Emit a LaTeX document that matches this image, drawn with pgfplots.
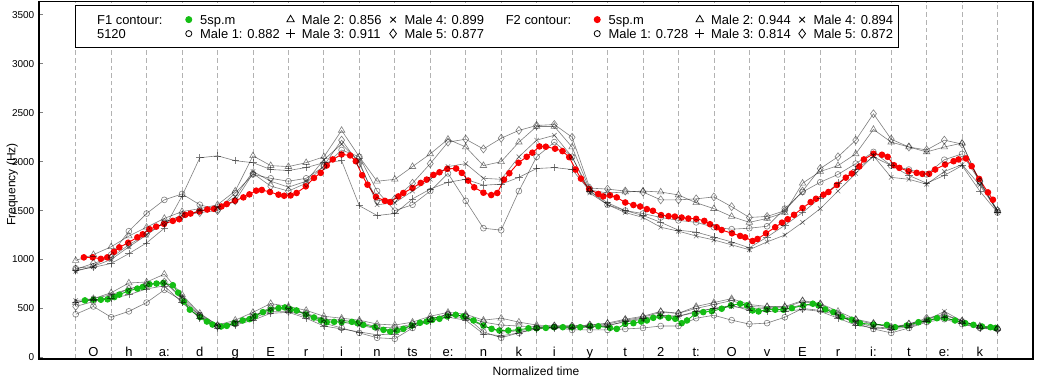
\documentclass[border=0pt]{standalone}
\usepackage{fontspec}
\setmainfont{Liberation Sans}
\usepackage{pgfplots}
\usepackage{pgfplotstable}
\pgfplotsset{compat=1.18}
\definecolor{Fgreen}{RGB}{20,190,20}
\definecolor{Fred}{RGB}{250,0,0}
\newcommand\LA[1]{\makebox[70.5pt][l]{\hspace{10.3pt}#1}}
\newcommand\LB[1]{\makebox[59.25pt][l]{#1}}
\newcommand\LC[1]{\makebox[59.8pt][l]{#1}}
\newcommand\LD[1]{\makebox[76pt][l]{#1}}
\newcommand\LE[1]{\makebox[60pt][l]{#1}}
\newcommand\LF[1]{\makebox[59.8pt][l]{#1}}
\newcommand\LG[1]{\makebox[59.7pt][l]{#1}}
\newcommand\LH[1]{\makebox[57.75pt][l]{#1}}
\newcommand\phon{\fontsize{9.75}{11}\selectfont}
\pgfplotsset{
  legmark/.style={only marks, legend image code/.code={%
     \draw[##1] plot coordinates {(0pt,0pt)};
     \path (-8.25pt,0pt) (8.25pt,0pt);}},
  male/.style={draw=black, opacity=0.5, line width=0.45pt, forget plot, mark options={solid, fill=none}},
}

% F2 of the five male speakers, sampled every half segment
\pgfplotstableread{
u m1 m2 m3 m4 m5
0 910 990 890 880 900
0.5 930 1050 920 930 960
1 1050 1130 960 1000 1020
1.5 1290 1240 1060 1130 1150
2 1470 1330 1170 1250 1260
2.5 1610 1420 1320 1380 1380
3 1670 1490 1650 1450 1450
3.5 1560 1520 2040 1500 1480
4 1510 1560 2060 1530 1500
4.5 1680 1700 2010 1640 1600
5 1870 2060 1990 1900 1880
5.5 1830 1960 1920 1800 1750
6 1800 1950 1910 1740 1700
6.5 1830 1990 1940 1800 1780
7 1950 2050 1990 2020 1960
7.5 2120 2320 2010 2180 2220
8 2050 2050 1550 2000 1980
8.5 1700 1800 1450 1560 1600
9 1500 1820 1470 1580 1620
9.5 1560 1950 1620 1700 1780
10 1700 2080 1720 1820 1980
10.5 1880 2230 1790 1950 2200
11 1600 2150 1820 1980 2230
11.5 1320 1960 1760 1830 2130
12 1300 2000 1770 1820 2240
12.5 1700 2200 1840 2050 2320
13 2050 2360 1930 2220 2370
13.5 2200 2360 1940 2270 2380
14 2050 2150 1920 2050 2250
14.5 1700 1710 1700 1680 1730
15 1560 1680 1580 1560 1720
15.5 1500 1690 1500 1480 1700
16 1470 1700 1450 1430 1690
16.5 1430 1690 1380 1330 1610
17 1400 1660 1300 1290 1610
17.5 1380 1580 1280 1240 1620
18 1330 1520 1230 1200 1640
18.5 1310 1440 1180 1150 1540
19 1320 1380 1120 1100 1430
19.5 1340 1420 1230 1180 1440
20 1520 1480 1350 1250 1500
20.5 1690 1780 1480 1380 1700
21 1790 1900 1630 1520 1930
21.5 1870 1960 1780 1700 2050
22 1980 2080 1920 1880 2220
22.5 2100 2330 2050 2060 2490
23 1960 2200 1960 1840 2230
23.5 1920 2150 1860 1820 2150
24 1870 2100 1780 1770 2120
24.5 2020 2150 1860 1900 2220
25 2080 2190 1960 1970 2180
25.5 1800 1780 1700 1760 1800
26 1480 1500 1480 1500 1500
}\FtwoMales

% F1 of the five male speakers, sampled every half segment
\pgfplotstableread{
u m1 m2 m3 m4 m5
0 440 560 560 580 520
0.5 520 600 590 600 570
1 410 660 600 640 620
1.5 470 760 640 700 700
2 560 770 700 740 740
2.5 690 850 730 770 770
3 580 640 560 620 600
3.5 430 450 400 440 420
4 320 330 300 330 320
4.5 340 380 330 360 350
5 400 460 380 420 420
5.5 470 550 450 500 510
6 470 520 460 490 500
6.5 420 480 400 440 450
7 350 420 320 380 390
7.5 300 400 290 360 380
8 250 380 260 330 360
8.5 200 340 230 290 310
9 190 330 240 280 300
9.5 300 360 310 330 340
10 390 420 370 390 390
10.5 440 460 410 430 440
11 420 440 380 400 420
11.5 260 380 240 320 360
12 200 400 220 260 330
12.5 250 360 250 270 320
13 300 330 290 300 310
13.5 310 320 300 310 320
14 280 320 300 310 320
14.5 280 330 310 320 330
15 280 350 320 330 340
15.5 290 390 370 360 380
16 300 420 400 390 410
16.5 320 470 430 420 460
17 320 450 420 420 450
17.5 400 520 470 460 500
18 430 560 500 500 540
18.5 380 600 530 520 580
19 340 540 480 500 520
19.5 350 520 470 500 510
20 410 520 470 490 510
20.5 500 580 490 540 570
21 480 550 470 520 540
21.5 430 470 400 420 440
22 350 390 330 360 380
22.5 290 350 300 310 340
23 250 300 290 300 310
23.5 300 340 310 320 340
24 360 390 370 380 400
24.5 390 430 410 470 440
25 340 370 350 370 370
25.5 300 320 300 310 310
26 290 300 280 290 290
}\FoneMales

\begin{document}
\begin{tikzpicture}
\useasboundingbox (0,0) rectangle (780pt,285.75pt);
\begin{axis}[
  at={(29.25pt,16.5pt)}, anchor=south west,
  scale only axis, width=745.5pt, height=268pt,
  xmin=-1.035, xmax=27, ymin=-17, ymax=3636,
  axis line style={line width=0.8pt},
  xtick={0,...,26}, xticklabels={,,}, xtick style={draw=none},
  xmajorgrids, grid style={black!30, dash pattern=on 3.5pt off 2.2pt, line width=0.6pt},
  ytick={0,500,...,3500}, ytick pos=left, tick align=inside, major tick length=3.2pt,
  ytick style={line width=0.8pt},
  scaled y ticks=false,
  /pgf/number format/1000 sep={},
  /pgf/number format/assume math mode=true,
  yticklabel style={font=\fontsize{7.5}{9}\selectfont},
  ylabel={Frequency (Hz)},
  ylabel style={at={(axis description cs:-0.0269,0.488)}, anchor=center, font=\fontsize{9}{10}\selectfont},
  xlabel={Normalized time},
  xlabel style={at={(axis description cs:0.5,-0.035)}, anchor=center, font=\fontsize{9}{10}\selectfont},
  legend columns=8,
  legend cell align=left,
  legend style={at={(axis description cs:0.0362,0.9908)}, anchor=north west,
    draw=black, line width=0.6pt, fill=white, inner xsep=6pt, inner ysep=5.5pt,
    font=\fontsize{9.7}{10.5}\selectfont, column sep=0pt, row sep=0.1pt,
    nodes={inner sep=0pt, text height=8.7pt, text depth=1.7pt}},
]
% mean contours of 5sp.m
\addplot[color=Fred, line width=0.7pt, mark=*, mark size=2.1pt, forget plot] coordinates {
(0.23,1022)(0.48,1022)(0.71,1007)(0.89,1022)(1.08,1079)(1.23,1124)(1.48,1172)(1.74,1227)(1.89,1258)(2.08,1310)(2.27,1336)(2.49,1364)(2.74,1395)(2.92,1412)(3.09,1457)(3.24,1470)(3.49,1491)(3.71,1511)(3.90,1518)(4.11,1542)(4.26,1567)(4.49,1601)(4.73,1635)(4.90,1666)(5.09,1704)(5.25,1711)(5.48,1690)(5.72,1663)(5.88,1652)(6.06,1655)(6.23,1680)(6.49,1748)(6.72,1834)(6.91,1886)(7.08,1961)(7.25,2023)(7.50,2074)(7.74,2064)(7.90,2005)(8.08,1861)(8.23,1765)(8.47,1639)(8.72,1600)(8.87,1587)(9.10,1645)(9.24,1680)(9.50,1731)(9.73,1783)(9.90,1817)(10.09,1865)(10.26,1892)(10.48,1927)(10.73,1930)(10.89,1886)(11.07,1807)(11.24,1738)(11.50,1683)(11.72,1659)(11.89,1680)(12.08,1817)(12.23,1882)(12.49,1989)(12.72,2050)(12.88,2092)(13.08,2156)(13.26,2153)(13.52,2133)(13.73,2108)(13.92,2046)(14.10,1920)(14.25,1827)(14.48,1721)(14.74,1670)(14.88,1645)(15.07,1656)(15.26,1635)(15.50,1583)(15.73,1557)(15.92,1542)(16.11,1515)(16.28,1498)(16.51,1454)(16.72,1443)(16.90,1439)(17.09,1429)(17.28,1419)(17.50,1416)(17.73,1395)(17.89,1361)(18.08,1330)(18.22,1302)(18.51,1268)(18.74,1241)(18.88,1227)(19.09,1189)(19.23,1210)(19.47,1268)(19.73,1330)(19.92,1377)(20.08,1412)(20.26,1457)(20.50,1526)(20.73,1587)(20.88,1621)(21.09,1663)(21.23,1690)(21.47,1762)(21.72,1837)(21.89,1879)(22.10,1951)(22.23,2023)(22.50,2081)(22.74,2071)(22.90,2050)(23.08,1964)(23.23,1937)(23.49,1902)(23.72,1886)(23.88,1876)(24.07,1876)(24.24,1920)(24.52,1971)(24.76,2005)(24.90,2023)(25.11,2033)(25.27,1954)(25.48,1824)(25.73,1686)(25.87,1611)
};
\addplot[color=Fgreen, line width=0.7pt, mark=*, mark size=2.1pt, forget plot] coordinates {
(0.26,582)(0.50,589)(0.71,589)(0.90,593)(1.09,616)(1.23,641)(1.48,678)(1.74,703)(1.89,719)(2.08,747)(2.28,754)(2.47,760)(2.74,737)(2.89,661)(3.05,570)(3.22,487)(3.51,411)(3.70,366)(3.86,335)(4.10,315)(4.26,322)(4.47,349)(4.71,377)(4.90,390)(5.06,421)(5.28,462)(5.50,487)(5.72,503)(5.90,510)(6.06,490)(6.23,479)(6.49,438)(6.72,407)(6.92,377)(7.08,359)(7.29,363)(7.50,359)(7.79,363)(7.95,349)(8.11,332)(8.44,308)(8.68,281)(8.87,263)(9.06,274)(9.24,291)(9.48,325)(9.71,353)(9.90,366)(10.06,384)(10.26,394)(10.48,418)(10.72,435)(10.93,418)(11.22,377)(11.50,325)(11.73,291)(11.95,274)(12.20,274)(12.49,281)(12.77,297)(13.00,297)(13.26,301)(13.49,308)(13.74,308)(13.99,308)(14.23,308)(14.51,318)(14.74,318)(15.07,301)(15.26,291)(15.50,343)(15.73,349)(15.95,366)(16.11,377)(16.29,404)(16.48,418)(16.72,404)(16.91,394)(17.09,349)(17.24,377)(17.47,445)(17.70,462)(17.94,472)(18.22,497)(18.48,531)(18.74,548)(18.93,531)(19.09,479)(19.26,469)(19.49,487)(19.73,487)(19.96,487)(20.20,503)(20.52,531)(20.79,548)(20.95,531)(21.14,490)(21.37,462)(21.61,411)(21.89,384)(22.12,349)(22.50,335)(22.88,332)(23.11,308)(23.44,325)(23.77,359)(24.05,377)(24.29,400)(24.52,400)(24.80,377)(25.09,349)(25.32,332)(25.56,315)(25.80,308)(25.94,301)
};
% male speakers
\addplot[male, mark=o, mark size=2.2pt] table[x=u,y=m1] {\FtwoMales};
\addplot[male, mark=triangle, mark size=2.8pt] table[x=u,y=m2] {\FtwoMales};
\addplot[male, mark=+, mark size=2.8pt] table[x=u,y=m3] {\FtwoMales};
\addplot[male, mark=x, mark size=2.4pt] table[x=u,y=m4] {\FtwoMales};
\addplot[male, mark=diamond, mark size=3pt] table[x=u,y=m5] {\FtwoMales};
\addplot[male, mark=o, mark size=2.2pt] table[x=u,y=m1] {\FoneMales};
\addplot[male, mark=triangle, mark size=2.8pt] table[x=u,y=m2] {\FoneMales};
\addplot[male, mark=+, mark size=2.8pt] table[x=u,y=m3] {\FoneMales};
\addplot[male, mark=x, mark size=2.4pt] table[x=u,y=m4] {\FoneMales};
\addplot[male, mark=diamond, mark size=3pt] table[x=u,y=m5] {\FoneMales};
% legend
\addlegendimage{empty legend}\addlegendentry{\LA{F1 contour:}}
\addlegendimage{legmark, mark=*, Fgreen, mark size=2.3pt}\addlegendentry{\LB{5sp.m}}
\addlegendimage{legmark, mark=triangle, black, mark size=3.2pt}\addlegendentry{\LC{Male 2: 0.856}}
\addlegendimage{legmark, mark=x, black, mark size=3pt}\addlegendentry{\LD{Male 4: 0.899}}
\addlegendimage{empty legend}\addlegendentry{\LE{F2 contour:}}
\addlegendimage{legmark, mark=*, Fred, mark size=2.3pt}\addlegendentry{\LF{5sp.m}}
\addlegendimage{legmark, mark=triangle, black, mark size=3.2pt}\addlegendentry{\LG{Male 2: 0.944}}
\addlegendimage{legmark, mark=x, black, mark size=3pt}\addlegendentry{\LH{Male 4: 0.894}}
\addlegendimage{empty legend}\addlegendentry{\LA{5120}}
\addlegendimage{legmark, mark=o, black, mark size=2.3pt}\addlegendentry{\LB{Male 1: 0.882}}
\addlegendimage{legmark, mark=+, black, mark size=3.4pt}\addlegendentry{\LC{Male 3: 0.911}}
\addlegendimage{legmark, mark=diamond, black, mark size=3.4pt}\addlegendentry{\LD{Male 5: 0.877}}
\addlegendimage{empty legend}\addlegendentry{\LE{}}
\addlegendimage{legmark, mark=o, black, mark size=2.3pt}\addlegendentry{\LF{Male 1: 0.728}}
\addlegendimage{legmark, mark=+, black, mark size=3.4pt}\addlegendentry{\LG{Male 3: 0.814}}
\addlegendimage{legmark, mark=diamond, black, mark size=3.4pt}\addlegendentry{\LH{Male 5: 0.872}}
% segment labels
\node[anchor=base, font=\phon] at (axis cs:0.5,13) {O};
\node[anchor=base, font=\phon] at (axis cs:1.5,13) {h};
\node[anchor=base, font=\phon] at (axis cs:2.5,13) {a:};
\node[anchor=base, font=\phon] at (axis cs:3.5,13) {d};
\node[anchor=base, font=\phon] at (axis cs:4.5,13) {g};
\node[anchor=base, font=\phon] at (axis cs:5.5,13) {E};
\node[anchor=base, font=\phon] at (axis cs:6.5,13) {r};
\node[anchor=base, font=\phon] at (axis cs:7.5,13) {i};
\node[anchor=base, font=\phon] at (axis cs:8.5,13) {n};
\node[anchor=base, font=\phon] at (axis cs:9.5,13) {ts};
\node[anchor=base, font=\phon] at (axis cs:10.5,13) {e:};
\node[anchor=base, font=\phon] at (axis cs:11.5,13) {n};
\node[anchor=base, font=\phon] at (axis cs:12.5,13) {k};
\node[anchor=base, font=\phon] at (axis cs:13.5,13) {i};
\node[anchor=base, font=\phon] at (axis cs:14.5,13) {y};
\node[anchor=base, font=\phon] at (axis cs:15.5,13) {t};
\node[anchor=base, font=\phon] at (axis cs:16.5,13) {2};
\node[anchor=base, font=\phon] at (axis cs:17.5,13) {t:};
\node[anchor=base, font=\phon] at (axis cs:18.5,13) {O};
\node[anchor=base, font=\phon] at (axis cs:19.5,13) {v};
\node[anchor=base, font=\phon] at (axis cs:20.5,13) {E};
\node[anchor=base, font=\phon] at (axis cs:21.5,13) {r};
\node[anchor=base, font=\phon] at (axis cs:22.5,13) {i:};
\node[anchor=base, font=\phon] at (axis cs:23.5,13) {t};
\node[anchor=base, font=\phon] at (axis cs:24.5,13) {e:};
\node[anchor=base, font=\phon] at (axis cs:25.5,13) {k};
\end{axis}
\end{tikzpicture}
\end{document}
